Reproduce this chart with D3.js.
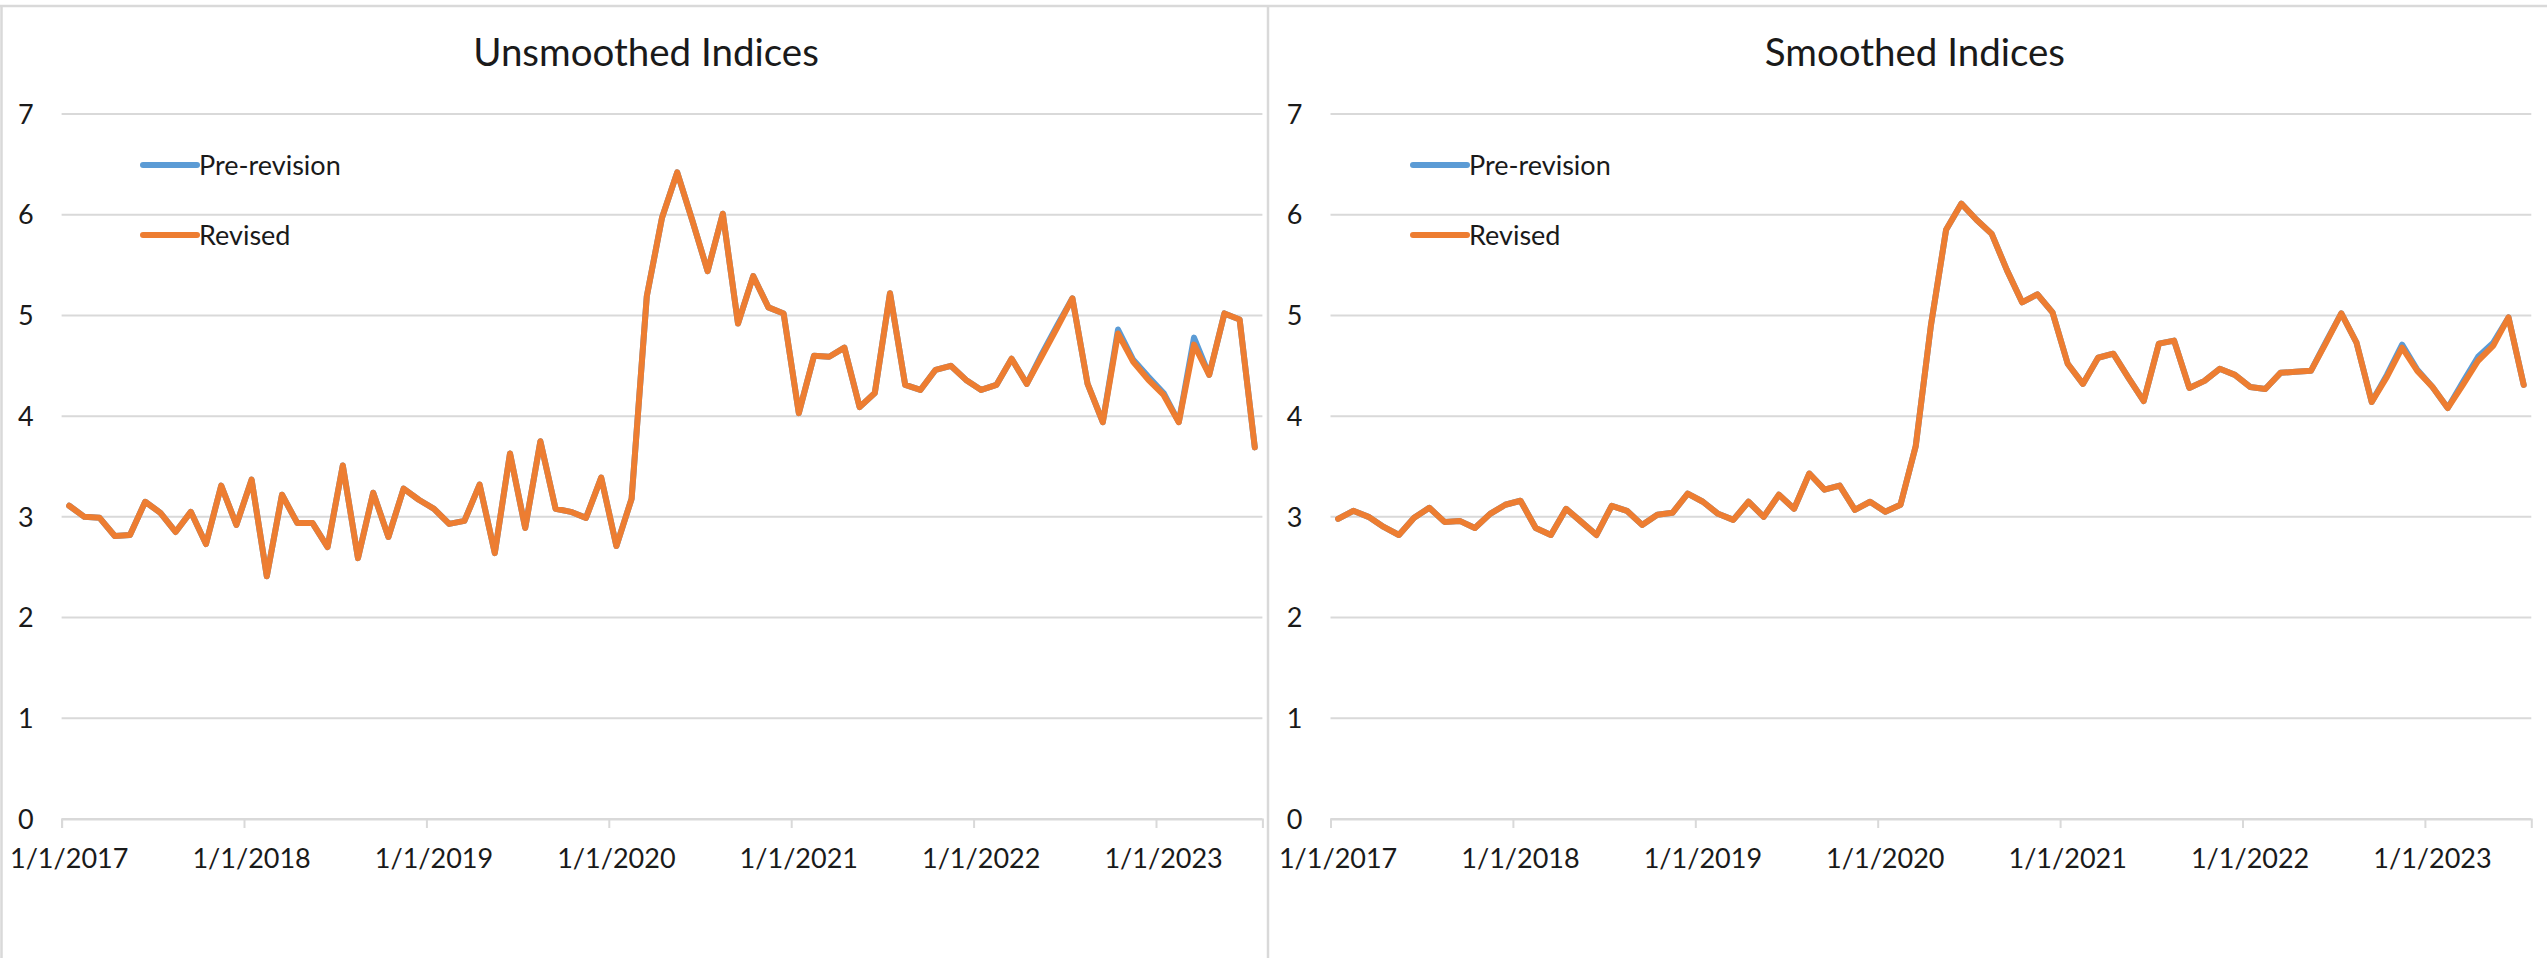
<!DOCTYPE html>
<html>
<head>
<meta charset="utf-8">
<script src="https://cdn.jsdelivr.net/npm/d3@7"></script>
<style>
  html, body { margin: 0; padding: 0; background: #fff; }
  svg { display: block; }
  text { font-family: Lato, "Open Sans", sans-serif; fill: #1a1a1a; }
</style>
</head>
<body>
<svg id="chart" width="2547" height="958"></svg>
<script>
// ---- data (monthly, Jan 2017 .. Jul 2023) ----
const tickLabels = ["1/1/2017","1/1/2018","1/1/2019","1/1/2020","1/1/2021","1/1/2022","1/1/2023"];
const yTicks = [0,1,2,3,4,5,6,7];
const seriesNames = ["Pre-revision","Revised"];
const panelTitles = ["Unsmoothed  Indices","Smoothed  Indices"];

const unsmoothedRevised = [
  3.11,3.00,2.99,2.81,2.82,3.15,3.04,2.85,3.05,2.73,3.31,2.92,
  3.37,2.41,3.22,2.94,2.94,2.70,3.51,2.59,3.24,2.80,3.28,3.17,
  3.08,2.93,2.96,3.32,2.64,3.63,2.89,3.75,3.08,3.05,2.99,3.39,
  2.71,3.18,5.19,5.97,6.42,5.94,5.44,6.01,4.92,5.39,5.08,5.02,
  4.03,4.60,4.59,4.68,4.09,4.23,5.22,4.31,4.26,4.46,4.50,4.36,
  4.26,4.31,4.57,4.32,4.60,4.88,5.17,4.32,3.94,4.82,4.54,4.36,
  4.21,3.94,4.71,4.41,5.02,4.96,3.69
];
const unsmoothedPre = [
  3.11,3.00,2.99,2.81,2.82,3.15,3.04,2.85,3.05,2.73,3.31,2.92,
  3.37,2.41,3.22,2.94,2.94,2.70,3.51,2.59,3.24,2.80,3.28,3.17,
  3.08,2.93,2.96,3.32,2.64,3.63,2.89,3.75,3.08,3.05,2.99,3.39,
  2.71,3.18,5.19,5.97,6.42,5.94,5.44,6.01,4.92,5.39,5.08,5.02,
  4.03,4.60,4.59,4.68,4.09,4.23,5.22,4.31,4.26,4.46,4.50,4.36,
  4.26,4.31,4.57,4.32,4.62,4.90,5.17,4.32,3.94,4.86,4.56,4.39,
  4.23,3.94,4.78,4.41,5.02,4.96,3.69
];
const smoothedRevised = [
  2.98,3.06,3.00,2.90,2.82,2.99,3.09,2.95,2.96,2.89,3.03,3.12,
  3.16,2.89,2.82,3.08,2.95,2.82,3.11,3.06,2.92,3.02,3.04,3.23,
  3.15,3.03,2.97,3.15,3.00,3.22,3.08,3.43,3.27,3.31,3.07,3.15,
  3.05,3.12,3.70,4.90,5.85,6.11,5.95,5.81,5.45,5.13,5.21,5.03,
  4.52,4.32,4.58,4.62,4.38,4.15,4.72,4.75,4.28,4.35,4.47,4.41,
  4.29,4.27,4.43,4.44,4.45,4.73,5.02,4.73,4.14,4.39,4.68,4.45,
  4.29,4.08,4.31,4.55,4.70,4.98,4.31
];
const smoothedPre = [
  2.98,3.06,3.00,2.90,2.82,2.99,3.09,2.95,2.96,2.89,3.03,3.12,
  3.16,2.89,2.82,3.08,2.95,2.82,3.11,3.06,2.92,3.02,3.04,3.23,
  3.15,3.03,2.97,3.15,3.00,3.22,3.08,3.43,3.27,3.31,3.07,3.15,
  3.05,3.12,3.70,4.90,5.85,6.11,5.95,5.81,5.45,5.13,5.21,5.03,
  4.52,4.32,4.58,4.62,4.38,4.15,4.72,4.75,4.28,4.35,4.47,4.41,
  4.29,4.27,4.43,4.44,4.45,4.74,5.02,4.73,4.14,4.41,4.71,4.46,
  4.29,4.08,4.34,4.59,4.73,4.98,4.31
];

// ---- styling / layout ----
const colors = ["#5B9BD5", "#ED7D31"];
const gridColor = "#D9D9D9";
const nMonths = unsmoothedRevised.length; // 79 monthly categories
const svg = d3.select("#chart");

// chart frames
svg.append("line").attr("x1",0).attr("x2",2547).attr("y1",6).attr("y2",6)
  .attr("stroke",gridColor).attr("stroke-width",2.5);
svg.append("line").attr("x1",1.5).attr("x2",1.5).attr("y1",6).attr("y2",958)
  .attr("stroke",gridColor).attr("stroke-width",2.5);
svg.append("line").attr("x1",1268).attr("x2",1268).attr("y1",6).attr("y2",958)
  .attr("stroke",gridColor).attr("stroke-width",2.5);

const panels = [
  { title: panelTitles[0], x0: 61.6, x1: 1262.4, series: [unsmoothedPre, unsmoothedRevised], legendX: 143 },
  { title: panelTitles[1], x0: 1330.5, x1: 2531.3, series: [smoothedPre, smoothedRevised], legendX: 1413 }
];

const y = d3.scaleLinear().domain([0, 7]).range([819, 114]);

panels.forEach(p => {
  const g = svg.append("g");
  const x = d3.scaleLinear().domain([0, nMonths]).range([p.x0, p.x1]);

  // gridlines
  g.append("g").selectAll("line").data(yTicks).join("line")
    .attr("x1", p.x0).attr("x2", p.x1)
    .attr("y1", d => y(d)).attr("y2", d => y(d))
    .attr("stroke", gridColor).attr("stroke-width", 2);

  // y labels
  g.append("g").selectAll("text").data(yTicks).join("text")
    .attr("x", p.x0 - 28).attr("y", d => y(d))
    .attr("dy", "0.36em").attr("text-anchor", "end")
    .attr("font-size", 27).text(d => d);

  // x axis with year tick marks at category boundaries
  const tickVals = tickLabels.map((_, i) => i * 12);
  const axis = d3.axisBottom(x).tickValues(tickVals).tickSize(9).tickFormat("");
  const ag = g.append("g").attr("transform", `translate(0,${y(0)})`).call(axis);
  ag.select(".domain").attr("stroke", gridColor).attr("stroke-width", 2);
  ag.selectAll(".tick line").attr("stroke", gridColor).attr("stroke-width", 2);

  // x labels centred under the January category
  g.append("g").selectAll("text").data(tickLabels).join("text")
    .attr("x", (d, i) => x(i * 12 + 0.5)).attr("y", 868)
    .attr("text-anchor", "middle").attr("font-size", 27).text(d => d);

  // lines
  const line = d3.line().x((d, i) => x(i + 0.5)).y(d => y(d));
  p.series.forEach((s, k) => {
    g.append("path").datum(s)
      .attr("fill", "none").attr("stroke", colors[k])
      .attr("stroke-width", 6).attr("stroke-linejoin", "round").attr("stroke-linecap", "round")
      .attr("d", line);
  });

  // title
  g.append("text").attr("x", (p.x0 + p.x1) / 2 - 16).attr("y", 66)
    .attr("text-anchor", "middle").attr("font-size", 38.5).attr("fill", "#1a1a1a")
    .text(p.title);

  // legend
  seriesNames.forEach((name, k) => {
    const ly = 165 + k * 70;
    g.append("line").attr("x1", p.legendX).attr("x2", p.legendX + 54)
      .attr("y1", ly).attr("y2", ly)
      .attr("stroke", colors[k]).attr("stroke-width", 6).attr("stroke-linecap", "round");
    g.append("text").attr("x", p.legendX + 56).attr("y", ly)
      .attr("dy", "0.36em").attr("font-size", 27).text(name);
  });
});
</script>
</body>
</html>
